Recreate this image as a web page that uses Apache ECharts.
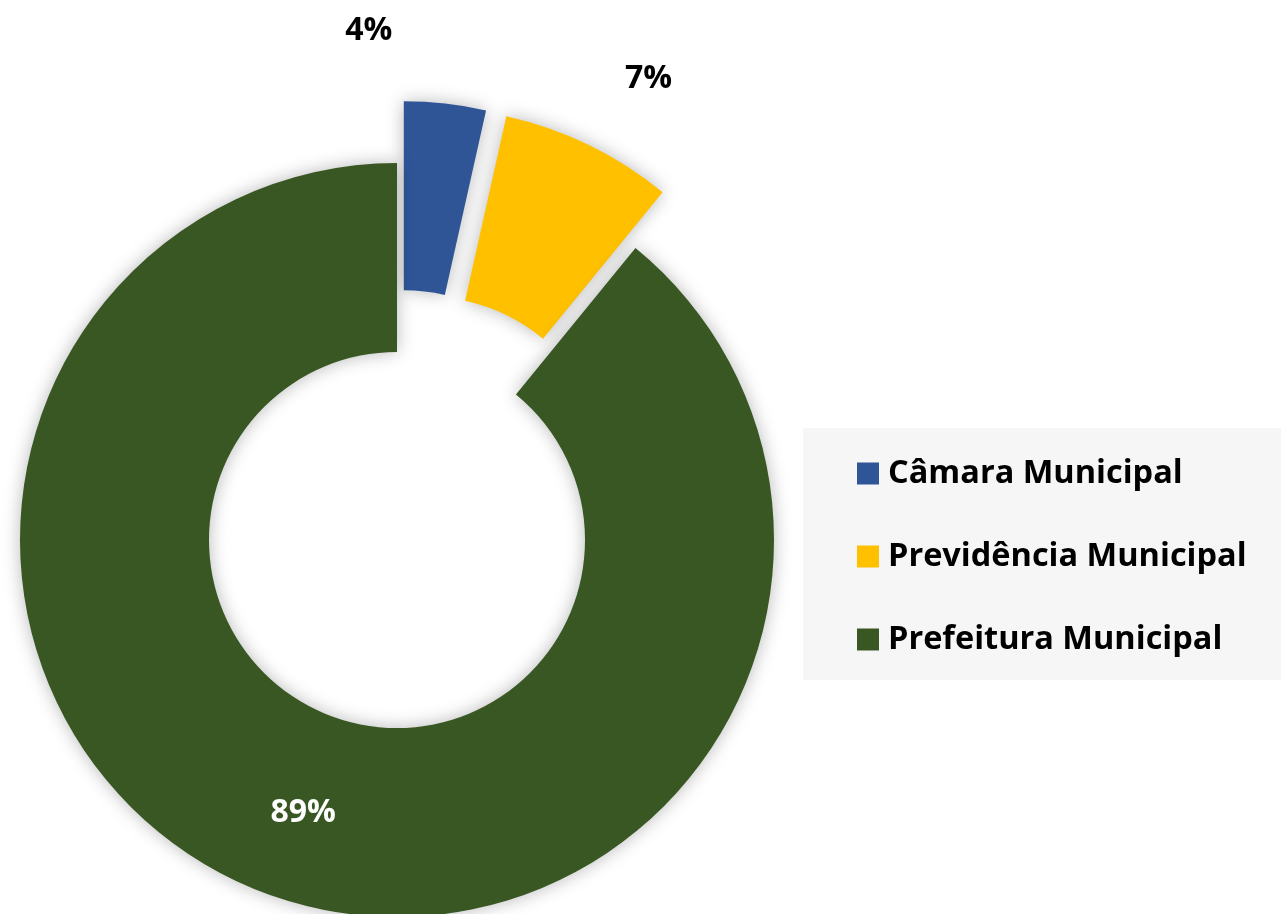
<!DOCTYPE html>
<html>
<head>
<meta charset="utf-8">
<style>html,body{margin:0;padding:0;background:#fff;}#c{width:1281px;height:914px;}</style>
<script src="https://cdn.jsdelivr.net/npm/echarts@6/dist/echarts.min.js"></script>
</head>
<body>
<div id="c"></div>
<script>
const categories = ['Câmara Municipal', 'Previdência Municipal', 'Prefeitura Municipal'];
const values = [3.5, 7.4, 89.1];
const colors = ['#2F5597', '#FFC000', '#385723'];
const exploded = [true, true, false];

const FONT = '"Open Sans", "Noto Sans", sans-serif';
const chart = echarts.init(document.getElementById('c'), null, {renderer: 'canvas'});

const labelShift = [[-105, -73], [31, -66], [2, 4]];

chart.setOption({
  animation: false,
  backgroundColor: '#ffffff',
  legend: {
    orient: 'vertical',
    left: 803,
    top: 428,
    icon: 'rect',
    itemWidth: 22,
    itemHeight: 22,
    itemGap: 50,
    padding: [29, 80, 24, 54],
    backgroundColor: '#f6f6f6',
    selectedMode: false,
    textStyle: {
      fontFamily: FONT,
      fontWeight: 'bold',
      fontSize: 32.5,
      color: '#000',
      lineHeight: 22,
      padding: [0, 0, 0, 4]
    },
    data: categories
  },
  series: [{
    type: 'pie',
    center: [397, 540],
    radius: [188, 377],
    startAngle: 90,
    clockwise: true,
    selectedMode: 'multiple',
    selectedOffset: 62,
    avoidLabelOverlap: false,
    itemStyle: {
      shadowBlur: 18,
      shadowColor: 'rgba(0,0,0,0.28)'
    },
    emphasis: {disabled: true},
    label: {
      position: 'outside',
      fontFamily: FONT,
      fontWeight: 'bold',
      fontSize: 32,
      color: '#000',
      formatter: p => Math.round(p.percent) + '%'
    },
    labelLine: {show: false, length: 0, length2: 0},
    labelLayout: p => ({dx: labelShift[p.dataIndex][0], dy: labelShift[p.dataIndex][1]}),
    data: categories.map((name, i) => ({
      name: name,
      value: values[i],
      selected: exploded[i],
      itemStyle: {color: colors[i]},
      select: {itemStyle: {color: colors[i]}, label: {color: i === 2 ? '#fff' : '#000'}},
      label: i === 2 ? {position: 'inside', color: '#fff'} : {}
    }))
  }]
});
</script>
</body>
</html>
